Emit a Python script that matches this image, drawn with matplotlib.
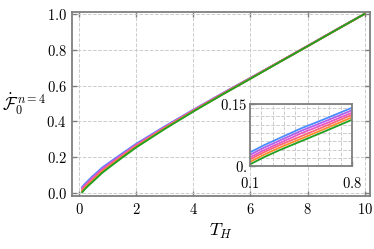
import matplotlib
matplotlib.use("Agg")
import matplotlib.pyplot as plt
from matplotlib.ticker import FixedLocator, MultipleLocator
import numpy as np

plt.rcParams["mathtext.fontset"] = "cm"
plt.rcParams["font.family"] = "serif"
plt.rcParams["font.serif"] = ["cmr10", "DejaVu Serif"]
plt.rcParams["axes.formatter.use_mathtext"] = True

# temperatura T_H y curvas normalizadas
T_H = [0.1, 0.2, 0.3, 0.45, 0.6, 0.8, 1, 1.5, 2, 3, 4, 5, 6, 7, 8, 9, 10]
azul = [0.033, 0.051, 0.067, 0.091, 0.112, 0.141, 0.164, 0.220, 0.275, 0.372, 0.465, 0.555, 0.643, 0.731, 0.821, 0.911, 1.0]
morado = [0.027, 0.045, 0.061, 0.085, 0.106, 0.135, 0.159, 0.215, 0.271, 0.369, 0.463, 0.554, 0.642, 0.731, 0.821, 0.911, 1.0]
magenta = [0.021, 0.039, 0.055, 0.079, 0.100, 0.129, 0.153, 0.211, 0.267, 0.366, 0.461, 0.552, 0.641, 0.731, 0.820, 0.911, 1.0]
rojo = [0.016, 0.034, 0.050, 0.072, 0.094, 0.124, 0.148, 0.206, 0.263, 0.364, 0.459, 0.551, 0.640, 0.730, 0.820, 0.910, 1.0]
naranja = [0.010, 0.028, 0.044, 0.066, 0.088, 0.118, 0.142, 0.202, 0.259, 0.361, 0.457, 0.549, 0.639, 0.730, 0.819, 0.910, 1.0]
verde = [0.004, 0.022, 0.038, 0.060, 0.082, 0.112, 0.137, 0.197, 0.255, 0.358, 0.455, 0.548, 0.638, 0.729, 0.819, 0.910, 1.0]

curvas = [azul, morado, magenta, rojo, naranja, verde]
colores = ["#4a8cff", "#b060e8", "#e855c8", "#ff6478", "#ff8a2a", "#22a022"]

x_ticks = [0, 2, 4, 6, 8, 10]
y_ticks = [0.0, 0.2, 0.4, 0.6, 0.8, 1.0]
inset_xticks = [0.1, 0.8]
inset_yticks = [0.0, 0.15]
inset_yticklabels = ["0.", "0.15"]

gris = "#7f7f7f"


def estilo(ax):
    for s in ax.spines.values():
        s.set_color(gris)
        s.set_linewidth(1.3)
    ax.tick_params(direction="in", top=True, right=True, color=gris, length=3.5, width=1, labelsize=10.5, pad=4)
    ax.tick_params(which="minor", direction="in", length=0)


fig = plt.figure(figsize=(3.74, 2.49), dpi=100)
ax = fig.add_axes([0.193, 0.213, 0.797, 0.739])
for y, c in zip(curvas, colores):
    ax.plot(T_H, y, color=c, lw=1.4)
ax.set_xlim(-0.25, 10.2)
ax.set_ylim(-0.017, 1.011)
ax.set_xticks(x_ticks)
ax.set_xticklabels([f"${v}$" for v in x_ticks])
ax.set_yticks(y_ticks)
ax.set_yticklabels([f"${v:.1f}$" for v in y_ticks])
ax.grid(True, ls="--", color="#cccccc", lw=0.7)
ax.set_axisbelow(True)
estilo(ax)
ax.set_xlabel(r"$T_H$", fontsize=13, labelpad=4)
ax.set_ylabel(r"$\dot{\mathcal{F}}_0^{\,n=4}$", fontsize=12.5, rotation=0, labelpad=16, va="center")

ins = fig.add_axes([0.668, 0.333, 0.273, 0.249])
for y, c in zip(curvas, colores):
    ins.plot(T_H, y, color=c, lw=1.3)
ins.set_xlim(0.1, 0.8)
ins.set_ylim(0, 0.15)
ins.set_xticks(inset_xticks)
ins.set_xticklabels([f"${v}$" for v in inset_xticks])
ins.set_yticks(inset_yticks)
ins.set_yticklabels([f"${v}$" for v in inset_yticklabels])
ins.xaxis.set_minor_locator(FixedLocator(np.linspace(0.1, 0.8, 10)[1:-1]))
ins.yaxis.set_minor_locator(MultipleLocator(0.02))
ins.grid(True, which="both", ls="--", color="#cccccc", lw=0.7)
ins.set_axisbelow(True)
estilo(ins)
ins.tick_params(top=False, right=False)
ins.tick_params(axis="x", pad=7)
ins.tick_params(axis="y", pad=2)

fig.savefig("out.png", dpi=100)
